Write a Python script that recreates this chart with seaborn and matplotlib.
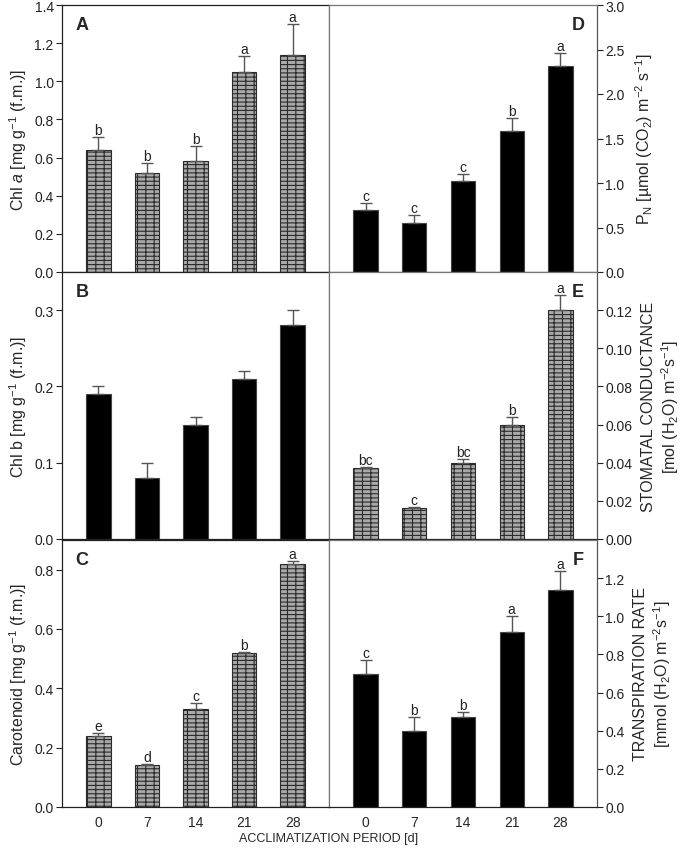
import seaborn as sb
import matplotlib.pyplot as plt
import numpy as np
import pandas as pd

# data
days = ['0', '7', '14', '21', '28']

chla = [0.64, 0.52, 0.58, 1.05, 1.14]
chla_err = [0.07, 0.05, 0.08, 0.08, 0.16]
chla_lbl = ['b', 'b', 'b', 'a', 'a']

chlb = [0.19, 0.08, 0.15, 0.21, 0.28]
chlb_err = [0.01, 0.02, 0.01, 0.01, 0.02]
chlb_lbl = ['', '', '', '', '']

carot = [0.24, 0.14, 0.33, 0.52, 0.82]
carot_err = [0.01, 0.006, 0.02, 0.004, 0.01]
carot_lbl = ['e', 'd', 'c', 'b', 'a']

pn = [0.70, 0.55, 1.02, 1.58, 2.31]
pn_err = [0.07, 0.09, 0.08, 0.15, 0.15]
pn_lbl = ['c', 'c', 'c', 'b', 'a']

gs = [0.037, 0.016, 0.040, 0.060, 0.120]
gs_err = [0.001, 0.001, 0.002, 0.004, 0.008]
gs_lbl = ['bc', 'c', 'bc', 'b', 'a']

tr = [0.70, 0.40, 0.47, 0.92, 1.14]
tr_err = [0.07, 0.07, 0.03, 0.08, 0.10]
tr_lbl = ['c', 'b', 'b', 'a', 'a']

#%%
sb.set_style('ticks')
plt.rcParams['font.family'] = ['Liberation Sans', 'DejaVu Sans']
plt.rcParams['hatch.linewidth'] = 0.8
plt.rcParams['mathtext.fontset'] = 'custom'
plt.rcParams['mathtext.rm'] = 'Liberation Sans'
plt.rcParams['mathtext.it'] = 'Liberation Sans:italic'

fig = plt.figure(figsize=(6.85, 8.54), dpi=100)
L, W = 62/685, 267/685
R = 329/685
rows = [(854-273)/854, (854-540)/854, (854-808)/854]
H = 267/854


def panel(ax, vals, errs, lbls, hatched, ylim, ticks, fmt, ylabel, letter, right):
    df = pd.DataFrame({'day': days, 'val': vals})
    if hatched:
        sb.barplot(data=df, x='day', y='val', ax=ax, color='#a9a9a9', width=0.5,
                   saturation=1, edgecolor='#2a2a2a', linewidth=0.8, errorbar=None)
        for p in ax.patches:
            p.set_hatch('----||')
    else:
        sb.barplot(data=df, x='day', y='val', ax=ax, color='black', width=0.5,
                   saturation=1, edgecolor='#444444', linewidth=0.8, errorbar=None)
    x = np.arange(len(days))
    ax.errorbar(x, vals, yerr=[np.zeros(len(vals)), errs], fmt='none',
                ecolor='#555555', elinewidth=1, capsize=4, capthick=1)
    for i in range(len(vals)):
        if lbls[i]:
            ax.text(i, vals[i] + errs[i], lbls[i], ha='center', va='bottom',
                    fontsize=10, color='#222222')
    ax.set_xlim(-0.75, 4.75)
    ax.set_ylim(*ylim)
    ax.set_yticks(ticks)
    ax.set_yticklabels([fmt % t for t in ticks], fontsize=10)
    ax.set_xlabel('')
    ax.set_ylabel(ylabel, fontsize=11.5)
    for s in ax.spines.values():
        s.set_color('#777777')
        s.set_linewidth(0.9)
    ax.spines['bottom'].set_color('#222222')
    if right:
        ax.yaxis.tick_right()
        ax.yaxis.set_label_position('right')
        ax.spines['right'].set_color('#555555')
        ax.text(0.93, 0.96, letter, transform=ax.transAxes, fontsize=13,
                fontweight='bold', ha='center', va='top')
    else:
        ax.spines['left'].set_color('#222222')
        ax.spines['top'].set_color('#222222')
        ax.text(0.075, 0.96, letter, transform=ax.transAxes, fontsize=13,
                fontweight='bold', ha='center', va='top')
    ax.tick_params(axis='y', length=4, width=0.8, colors='#222222', pad=2)
    ax.tick_params(axis='x', length=0, labelsize=10, pad=6)


axA = fig.add_axes([L, rows[0], W, H])
axB = fig.add_axes([L, rows[1], W, H])
axC = fig.add_axes([L, rows[2], W, H])
axD = fig.add_axes([R, rows[0], W+1/685, H])
axE = fig.add_axes([R, rows[1], W+1/685, H])
axF = fig.add_axes([R, rows[2], W+1/685, H])

panel(axA, chla, chla_err, chla_lbl, True, (0, 1.4), np.arange(0, 1.41, 0.2), '%.1f',
      'Chl $\\mathit{a}$ [mg g$^{-1}$ (f.m.)]', 'A', False)
panel(axB, chlb, chlb_err, chlb_lbl, False, (0, 0.35), [0, 0.1, 0.2, 0.3], '%.1f',
      'Chl b [mg g$^{-1}$ (f.m.)]', 'B', False)
panel(axC, carot, carot_err, carot_lbl, True, (0, 0.9), [0, 0.2, 0.4, 0.6, 0.8], '%.1f',
      'Carotenoid [mg g$^{-1}$ (f.m.)]', 'C', False)
panel(axD, pn, pn_err, pn_lbl, False, (0, 3.0), np.arange(0, 3.01, 0.5), '%.1f',
      'P$_\\mathrm{N}$ [\u00b5mol (CO$_2$) m$^{-2}$ s$^{-1}$]', 'D', True)
panel(axE, gs, gs_err, gs_lbl, True, (0, 0.14), np.arange(0, 0.121, 0.02), '%.2f',
      'STOMATAL CONDUCTANCE\n[mol (H$_2$O) m$^{-2}$s$^{-1}$]', 'E', True)
panel(axF, tr, tr_err, tr_lbl, False, (0, 1.4), np.arange(0, 1.21, 0.2), '%.1f',
      'TRANSPIRATION RATE\n[mmol (H$_2$O) m$^{-2}$s$^{-1}$]', 'F', True)

for ax in [axA, axB, axD, axE]:
    ax.set_xticklabels([])
for ax in [axD, axE, axF]:
    ax.yaxis.labelpad = 6
for ax in [axA, axB, axC]:
    ax.yaxis.labelpad = 4

fig.text(R, (854-839)/854, 'ACCLIMATIZATION PERIOD [d]', ha='center',
         va='center', fontsize=9)

plt.savefig('out.png', dpi=100)
